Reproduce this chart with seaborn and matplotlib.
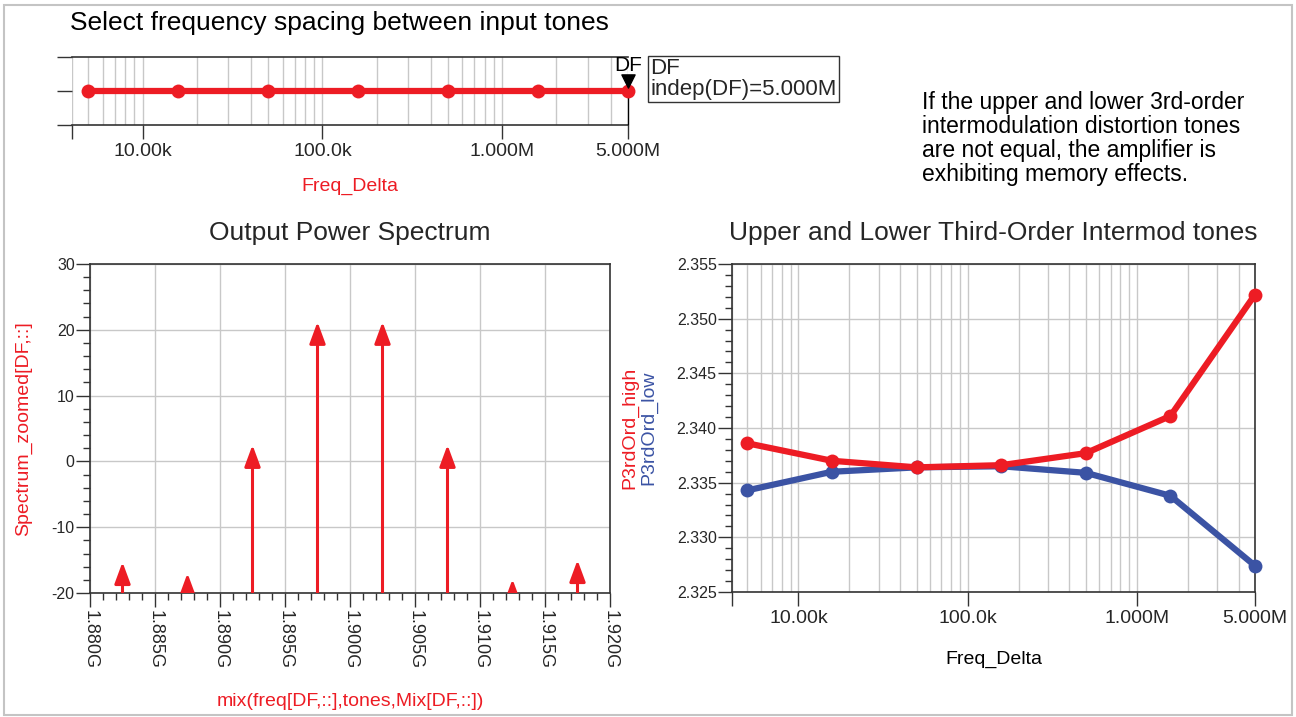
import numpy as np
import pandas as pd
import matplotlib
matplotlib.use("Agg")
import matplotlib.pyplot as plt
import seaborn as sns
from matplotlib.ticker import FixedLocator, MultipleLocator, LogLocator, NullFormatter
from matplotlib.patches import Rectangle, FancyArrowPatch

# ---------------- data ----------------
freq_delta = [5.0e3, 15.81e3, 50.0e3, 158.1e3, 500.0e3, 1.581e6, 5.0e6]
df_index = [0, 0, 0, 0, 0, 0, 0]
p3_high = [2.3386, 2.3370, 2.3364, 2.3366, 2.3377, 2.3411, 2.3522]
p3_low = [2.3343, 2.3360, 2.3364, 2.3365, 2.3359, 2.3338, 2.3274]
spec_freq_ghz = [1.8825, 1.8875, 1.8925, 1.8975, 1.9025, 1.9075, 1.9125, 1.9175]
spec_dbm = [-15.3, -17.0, 2.5, 21.2, 21.2, 2.5, -17.9, -15.0]
marker_freq = 5.0e6
f_min, f_max = 4.05e3, 5.0e6
log_tick_vals = [1e4, 1e5, 1e6, 5e6]
log_tick_labels = ["10.00k", "100.0k", "1.000M", "5.000M"]
spec_tick_vals = [1.880, 1.885, 1.890, 1.895, 1.900, 1.905, 1.910, 1.915, 1.920]
spec_tick_labels = ["1.880G", "1.885G", "1.890G", "1.895G", "1.900G",
                    "1.905G", "1.910G", "1.915G", "1.920G"]
spec_y_ticks = [-20, -10, 0, 10, 20, 30]
p3_ticks = [2.325, 2.330, 2.335, 2.340, 2.345, 2.350, 2.355]

RED = "#ED1C24"
BLUE = "#3B53A4"
GRID = "#c8c8c8"
DARK = "#333333"

sns.set_style("white")
plt.rcParams["font.family"] = ["Liberation Sans", "DejaVu Sans"]

W, H = 1296, 717
fig = plt.figure(figsize=(W / 100, H / 100), dpi=100)
fig.patches.append(Rectangle((4 / W, 1 - 715 / H), 1288 / W, 710 / H,
                             transform=fig.transFigure, fill=False,
                             ec="#c4c4c4", lw=1.5))


def style_spines(ax, color=DARK, lw=1.2):
    for s in ax.spines.values():
        s.set_visible(True)
        s.set_color(color)
        s.set_linewidth(lw)


# ---------------- top panel ----------------
fig.text(70 / W, 1 - 23 / H, "Select frequency spacing between input tones",
         fontsize=19, va="center", ha="left", color="black")

ax0 = fig.add_axes([72 / W, 1 - 125 / H, 556 / W, 68 / H])
ax0.set_xscale("log")
top_df = pd.DataFrame({"Freq_Delta": freq_delta, "DF": df_index})
sns.lineplot(data=top_df, x="Freq_Delta", y="DF", ax=ax0, color=RED,
             lw=4.5, marker="o", markersize=10, markeredgewidth=0, zorder=4)
for ln in ax0.lines:
    ln.set_clip_on(False)
ax0.set_xlim(f_min, f_max)
ax0.set_ylim(-1, 1)
ax0.xaxis.set_major_locator(FixedLocator([f_min] + log_tick_vals))
ax0.set_xticklabels([""] + log_tick_labels)
ax0.xaxis.set_minor_locator(LogLocator(base=10, subs=np.arange(2, 10)))
ax0.xaxis.set_minor_formatter(NullFormatter())
ax0.set_yticks([-1, 0, 1])
ax0.set_yticklabels(["", "", ""])
ax0.grid(True, which="both", axis="x", color=GRID, lw=1)
ax0.grid(False, axis="y")
style_spines(ax0)
ax0.spines["left"].set_visible(False)
ax0.spines["right"].set_visible(False)
ax0.tick_params(axis="x", which="major", direction="out", length=10,
                width=1, color=DARK, labelsize=14, pad=3, bottom=True)
ax0.tick_params(axis="x", which="minor", length=0)
ax0.tick_params(axis="y", which="major", direction="out", length=11,
                width=1, color=DARK, left=True)
ax0.set_xlabel("Freq_Delta", color=RED, fontsize=14)
ax0.xaxis.set_label_coords(0.5, -(186 - 125) / 68)
ax0.xaxis.label.set_va("center")
ax0.set_ylabel("")
# marker DF
ax0.vlines([marker_freq], -1, 0.2, color="black", lw=1, zorder=3,
           clip_on=False)
ax0.scatter([marker_freq], [0.3], marker="v", s=90, color="black",
            zorder=6, clip_on=False)
ax0.text(marker_freq, 0.75, "DF", ha="center", va="center", fontsize=15,
         color="black", clip_on=False)
fig.text(650 / W, 1 - 58 / H,
         "DF\nindep(DF)={:.3f}M".format(marker_freq / 1e6),
         ha="left", va="top", fontsize=16, linespacing=1.0,
         bbox=dict(boxstyle="square,pad=0.1", fc="white", ec=DARK, lw=1))

fig.text(922 / W, 1 - 91 / H,
         "If the upper and lower 3rd-order\nintermodulation distortion tones\n"
         "are not equal, the amplifier is\nexhibiting memory effects.",
         ha="left", va="top", fontsize=16.5, linespacing=1.05, color="black")

# ---------------- spectrum panel ----------------
ax1 = fig.add_axes([90 / W, 1 - 593 / H, 520 / W, 329 / H])
ax1.set_xlim(spec_tick_vals[0], spec_tick_vals[-1])
ax1.set_ylim(spec_y_ticks[0], spec_y_ticks[-1])
for f, v in zip(spec_freq_ghz, spec_dbm):
    arr = FancyArrowPatch(posA=(f, spec_y_ticks[0]), posB=(f, v),
                          arrowstyle="-|>,head_length=1.3,head_width=0.48",
                          mutation_scale=10, color=RED, lw=2.2,
                          shrinkA=0, shrinkB=0, zorder=4)
    ax1.add_patch(arr)
ax1.xaxis.set_major_locator(FixedLocator(spec_tick_vals))
ax1.set_xticklabels(spec_tick_labels, rotation=270)
ax1.xaxis.set_minor_locator(MultipleLocator(0.001))
ax1.yaxis.set_major_locator(FixedLocator(spec_y_ticks))
ax1.set_yticklabels([str(t) for t in spec_y_ticks])
ax1.yaxis.set_minor_locator(MultipleLocator(2))
ax1.grid(True, which="major", color=GRID, lw=1)
style_spines(ax1)
ax1.tick_params(axis="both", which="major", direction="out", length=10,
                width=1, color=DARK, bottom=True, left=True)
ax1.tick_params(axis="both", which="minor", direction="out", length=5,
                width=1, color=DARK, bottom=True, left=True)
ax1.tick_params(axis="x", which="major", labelsize=13, pad=2)
ax1.tick_params(axis="y", which="major", labelsize=11.5, pad=1)
ax1.set_title("Output Power Spectrum", fontsize=19,
              y=1 + (264 - 233) / 329, pad=0, va="center")
ax1.set_ylabel("Spectrum_zoomed[DF,::]", color=RED, fontsize=14)
ax1.yaxis.set_label_coords((24 - 90) / 520, 0.5)
ax1.yaxis.label.set_va("center")
ax1.set_xlabel("mix(freq[DF,::],tones,Mix[DF,::])", color=RED, fontsize=14)
ax1.xaxis.set_label_coords(0.5, -(702 - 593) / 329)
ax1.xaxis.label.set_va("center")

# ---------------- IM3 panel ----------------
ax2 = fig.add_axes([732 / W, 1 - 592 / H, 523 / W, 328 / H])
ax2.set_xscale("log")
long_df = pd.DataFrame({
    "Freq_Delta": freq_delta + freq_delta,
    "value": p3_low + p3_high,
    "series": ["P3rdOrd_low"] * len(p3_low) + ["P3rdOrd_high"] * len(p3_high),
})
sns.lineplot(data=long_df, x="Freq_Delta", y="value", hue="series",
             hue_order=["P3rdOrd_low", "P3rdOrd_high"],
             palette={"P3rdOrd_high": RED, "P3rdOrd_low": BLUE},
             marker="o", markersize=10, markeredgewidth=0, lw=4.5,
             legend=False, ax=ax2, zorder=4)
for ln in ax2.lines:
    ln.set_clip_on(False)
ax2.set_xlim(f_min, f_max)
ax2.set_ylim(p3_ticks[0], p3_ticks[-1])
ax2.xaxis.set_major_locator(FixedLocator([f_min] + log_tick_vals))
ax2.set_xticklabels([""] + log_tick_labels)
ax2.xaxis.set_minor_locator(LogLocator(base=10, subs=np.arange(2, 10)))
ax2.xaxis.set_minor_formatter(NullFormatter())
ax2.yaxis.set_major_locator(FixedLocator(p3_ticks))
ax2.set_yticklabels(["{:.3f}".format(t) for t in p3_ticks])
ax2.yaxis.set_minor_locator(MultipleLocator(0.001))
ax2.grid(True, which="both", axis="x", color=GRID, lw=1)
ax2.grid(True, which="major", axis="y", color=GRID, lw=1)
style_spines(ax2)
ax2.tick_params(axis="x", which="major", direction="out", length=10,
                width=1, color=DARK, labelsize=14, pad=3, bottom=True)
ax2.tick_params(axis="x", which="minor", length=0)
ax2.tick_params(axis="y", which="major", direction="out", length=10,
                width=1, color=DARK, labelsize=11.5, pad=1, left=True)
ax2.tick_params(axis="y", which="minor", direction="out", length=5,
                width=1, color=DARK, left=True)
ax2.set_title("Upper and Lower Third-Order Intermod tones", fontsize=19,
              y=1 + (264 - 233) / 328, pad=0, va="center")
ax2.set_xlabel("Freq_Delta", color="black", fontsize=14)
ax2.xaxis.set_label_coords(0.5, -(659 - 592) / 328)
ax2.xaxis.label.set_va("center")
ax2.set_ylabel("")
ax2.text((630 - 732) / 523, 0.5, "P3rdOrd_high", color=RED, fontsize=14,
         rotation=90, ha="center", va="center", transform=ax2.transAxes)
ax2.text((649 - 732) / 523, 0.5, "P3rdOrd_low", color=BLUE, fontsize=14,
         rotation=90, ha="center", va="center", transform=ax2.transAxes)

fig.savefig("out.png", dpi=100)
